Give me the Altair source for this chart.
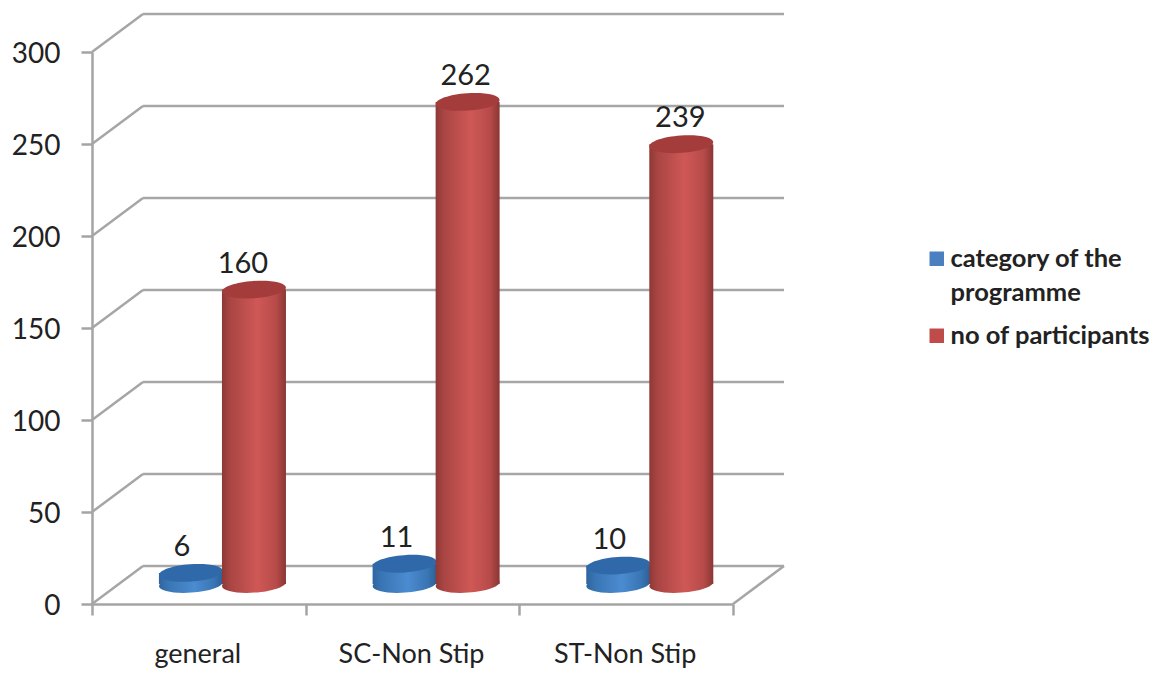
import altair as alt
import pandas as pd

categories = ["general", "SC-Non Stip", "ST-Non Stip"]
series_names = ["category of the programme", "no of participants"]
category_values = [6, 11, 10]
participant_values = [160, 262, 239]
y_ticks = [0, 50, 100, 150, 200, 250, 300]
x_ticks = [0, 1, 2, 3]

FONT = "Lato"
AXIS_GREY = "#a4a4a4"
GRID_GREY = "#a6a6a6"
DEPTH_X = 51 / 213.7     # wall depth in category units
DEPTH_Y = 38 / 1.84      # wall depth in value units
FLOOR = 20 / 1.84        # cylinder base lifted off the front edge
HALF = 32 / 213.7        # cylinder half width
PX = 213.7               # px per category
BLUE_POS = 0.463         # centre of blue cylinder within a category
RED_POS = 0.758

x_scale = alt.Scale(domain=[0, 3], nice=False, zero=False)
y_scale = alt.Scale(domain=[0, 300], nice=False)
x_axis = alt.Axis(
    values=x_ticks, labels=False, title=None, grid=False, domainColor=AXIS_GREY,
    domainWidth=2.5, tickColor=AXIS_GREY, tickWidth=2.5, tickSize=11)
y_axis = alt.Axis(
    values=y_ticks, title=None, grid=False, domainColor=AXIS_GREY, domainWidth=2.5,
    tickColor=AXIS_GREY, tickWidth=2.5, tickSize=11, labelFont=FONT, labelFontSize=28,
    labelColor="#222222", labelPadding=21, labelOffset=2)
X = lambda f: alt.X(f, type="quantitative", scale=x_scale, axis=x_axis)
Y = lambda f: alt.Y(f, type="quantitative", scale=y_scale, axis=y_axis)

ELLIPSE = ("M-1,0 C-1,-0.149 -0.552,-0.27 0,-0.27 C0.552,-0.27 1,-0.149 1,0 "
           "C1,0.149 0.552,0.27 0,0.27 C-0.552,0.27 -1,0.149 -1,0 Z")


def cylinder_table(values, pos):
    return pd.DataFrame({
        "category": categories,
        "value": values,
        "cx": [i + pos for i in range(3)],
        "x0": [i + pos - HALF for i in range(3)],
        "x1": [i + pos + HALF for i in range(3)],
        "base": FLOOR,
        "top": [v + FLOOR for v in values],
    })


blue = cylinder_table(category_values, BLUE_POS)
red = cylinder_table(participant_values, RED_POS)


def gradient(stops):
    return alt.Gradient(
        gradient="linear", x1=0, x2=1, y1=0, y2=0,
        stops=[alt.GradientStop(offset=o, color=c) for o, c in stops],
    )


RED_BODY = gradient([(0, "#8d3836"), (0.12, "#a84543"), (0.55, "#cf5856"), (0.85, "#b64b49"), (1, "#8a3634")])
BLUE_BODY = gradient([(0, "#2f659f"), (0.15, "#3a76b5"), (0.55, "#4b8bd0"), (0.85, "#3a76b5"), (1, "#2c6098")])
RED_TOP = "#a43c3c"
BLUE_TOP = "#2f69aa"


def cylinder(df, body, top_colour):
    enc = alt.Chart(df)
    size = (2 * HALF * PX) ** 2
    bottom = enc.mark_point(shape=ELLIPSE, filled=True, size=size, fill=body, opacity=1,
                            strokeWidth=0, angle=356).encode(x=X("cx"), y=Y("base"))
    side = enc.mark_rect(fill=body).encode(x=X("x0"), x2="x1", y=Y("base"), y2="top")
    top = enc.mark_point(shape=ELLIPSE, filled=True, size=size, fill=top_colour, opacity=1,
                         strokeWidth=0, angle=356).encode(x=X("cx"), y=Y("top"))
    return bottom + side + top


grid_df = pd.DataFrame({"v": y_ticks})
grid_df["vb"] = grid_df["v"] + DEPTH_Y
grid_df["x0"] = DEPTH_X
grid_df["x1"] = 3 + DEPTH_X
grid_df["x00"] = 0.0
back = alt.Chart(grid_df).mark_rule(color=GRID_GREY, strokeWidth=2.5).encode(
    x=X("x0"), x2="x1", y=Y("vb"))
side_lines = alt.Chart(grid_df).mark_rule(color=GRID_GREY, strokeWidth=2.5).encode(
    x=X("x00"), x2="x0", y=Y("v"), y2="vb")
floor_right = alt.Chart(pd.DataFrame({"a": [3.0], "b": [3 + DEPTH_X], "c": [0.0], "d": [DEPTH_Y]})).mark_rule(
    color=GRID_GREY, strokeWidth=2.5).encode(x=X("a"), x2="b", y=Y("c"), y2="d")

# solid layer that carries the legend, hidden behind the shaded cylinders
legend_df = pd.concat([
    blue.assign(series=series_names[0]),
    red.assign(series=series_names[1]),
])
legend_df["xa"] = legend_df["cx"] - HALF / 2
legend_df["xb"] = legend_df["cx"] + HALF / 2
solid = alt.Chart(legend_df).mark_rect().encode(
    x=X("xa"), x2="xb", y=Y("base"), y2="top",
    color=alt.Color("series:N", scale=alt.Scale(domain=series_names, range=["#4a80c0", "#c04c4a"]),
                    legend=alt.Legend(
                        title=None, orient="none", legendX=832, legendY=194,
                        symbolType="square", symbolSize=210, symbolStrokeWidth=0,
                        labelFont=FONT, labelFontSize=25.5, labelFontWeight="bold", labelColor="#222222",
                        labelLimit=320, labelOffset=1, rowPadding=16,
                        labelExpr="datum.label == 'category of the programme' ? ['category of the','programme'] : datum.label",
                    )),
)

# value labels
lab = pd.DataFrame({
    "text": [str(v) for v in category_values + participant_values],
    "x": [c - n / PX for c, n in zip(list(blue["cx"]) + list(red["cx"]), [9, 8, 9, 11, 2, 1])],
    "y": list(blue["top"]) + list(red["top"]),
})
labels = alt.Chart(lab).mark_text(font=FONT, fontSize=29, color="#222222", dy=-26, baseline="middle").encode(
    x=X("x"), y=Y("y"), text="text:N")

cat_df = pd.DataFrame({"text": categories, "x": [i + 0.5 for i in range(3)], "y": [0] * 3})
cat_labels = alt.Chart(cat_df).mark_text(font=FONT, fontSize=27, color="#222222", dy=51, dx=-1, baseline="middle").encode(
    x=X("x"), y=Y("y"), text="text:N")

chart = alt.layer(
    back, side_lines, floor_right, solid,
    cylinder(blue, BLUE_BODY, BLUE_TOP),
    cylinder(red, RED_BODY, RED_TOP),
    labels, cat_labels,
).properties(
    width=641, height=552,
    padding={"left": 84, "top": 44, "right": 423, "bottom": 66},
    autosize=alt.AutoSizeParams(type="none"),
    background="white",
).configure_view(stroke=None)
chart.config.style = {"guide-label": {"lineHeight": 34}}

chart.save("out.html", embed_options={"renderer": "svg", "actions": False})
